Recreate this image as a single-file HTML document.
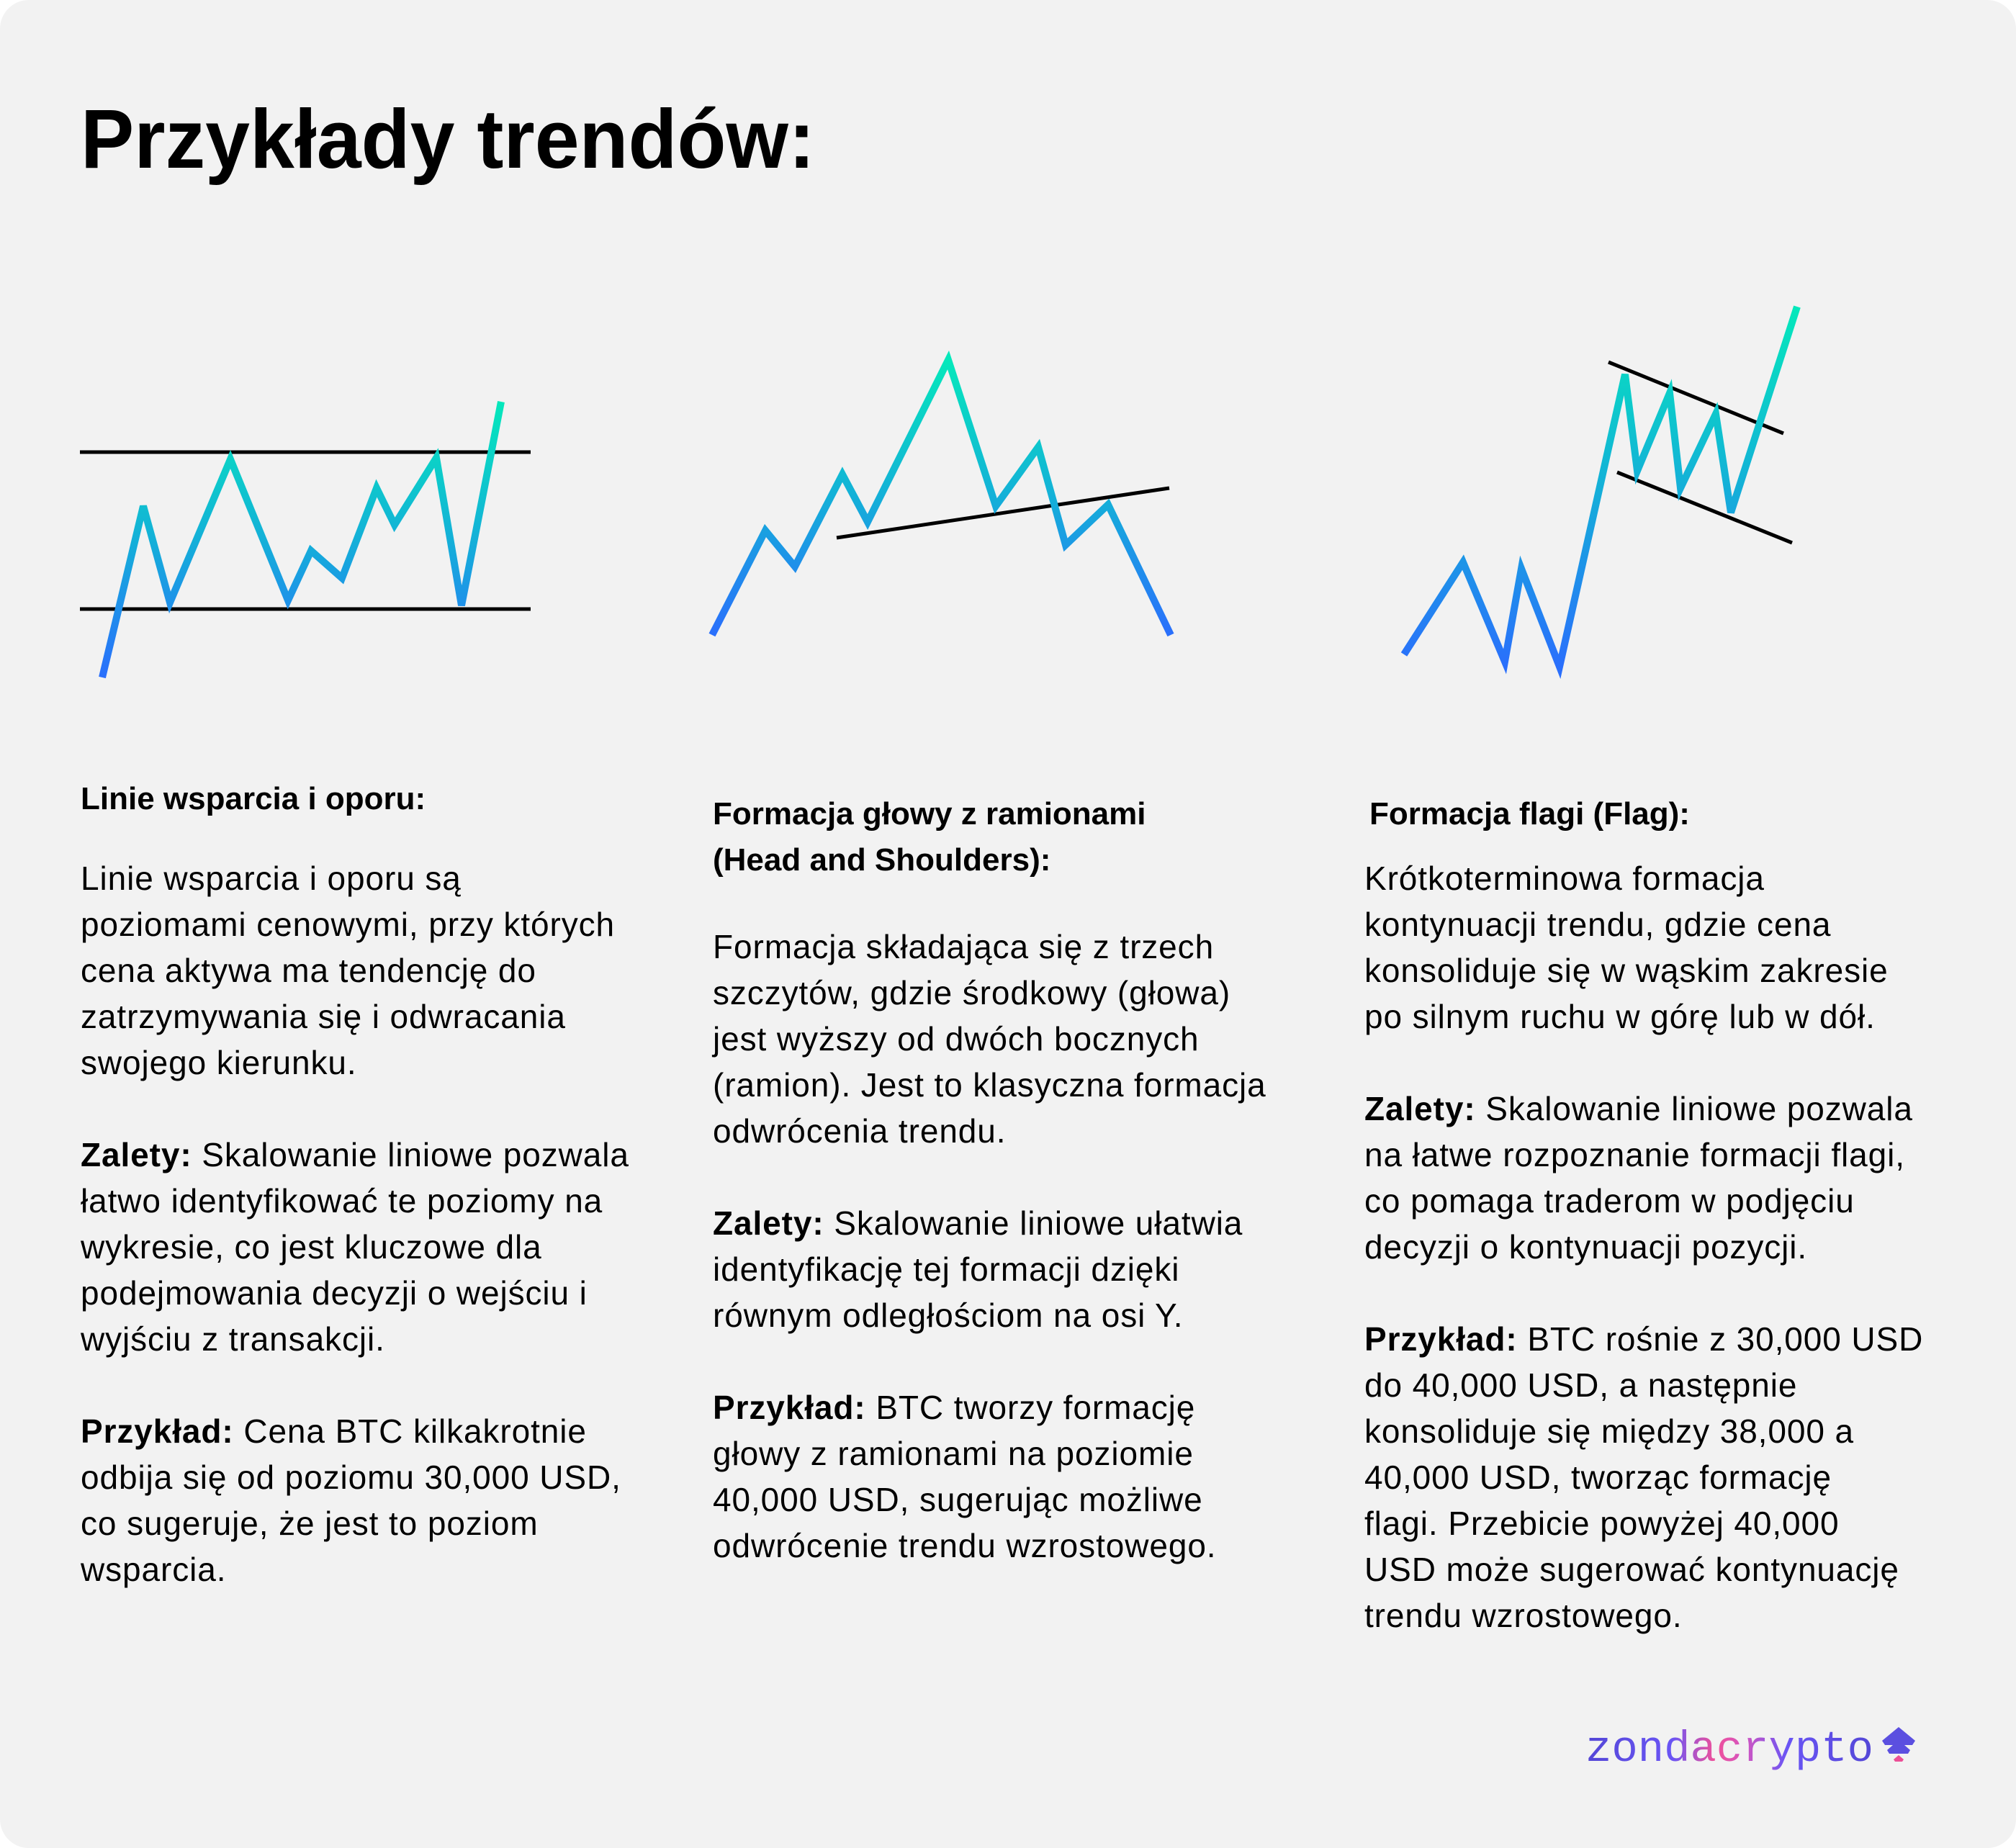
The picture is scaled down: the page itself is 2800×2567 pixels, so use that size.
<!DOCTYPE html>
<html><head><meta charset="utf-8"><style>
html,body{margin:0;padding:0;background:#fff;}
svg{display:block;}
text{font-family:"Liberation Sans",sans-serif;fill:#000;}
.b{font-size:46px;letter-spacing:0.9px;}
.h{font-size:44px;font-weight:bold;}
</style></head><body>
<svg width="2800" height="2567" viewBox="0 0 2800 2567" xmlns="http://www.w3.org/2000/svg">
<defs>
<linearGradient id="g" x1="0" y1="1" x2="0" y2="0">
<stop offset="0" stop-color="#2a6ffc"/><stop offset="0.5" stop-color="#14b0d8"/><stop offset="1" stop-color="#05e8bb"/>
</linearGradient>
<linearGradient id="lg" x1="0" y1="0" x2="1" y2="0">
<stop offset="0" stop-color="#5346d6"/><stop offset="0.3" stop-color="#6a55f5"/><stop offset="0.45" stop-color="#f0509a"/><stop offset="0.55" stop-color="#d455c0"/><stop offset="0.7" stop-color="#6a55f5"/><stop offset="1" stop-color="#5346d6"/>
</linearGradient>
</defs>
<rect x="0" y="0" width="2800" height="2567" rx="40" fill="#f2f2f2"/>
<text x="112" y="233" font-size="116" font-weight="bold" textLength="1020" lengthAdjust="spacingAndGlyphs">Przykłady trendów:</text>

<line x1="111" y1="628" x2="737" y2="628" stroke="#000" stroke-width="5"/>
<line x1="111" y1="846" x2="737" y2="846" stroke="#000" stroke-width="5"/>
<polyline fill="none" stroke="url(#g)" stroke-width="10" points="142,941 199,703 236,837 320,638 400,834 432,765 475,803 523,678 548,729 606,636 641,841 696,558"/>

<line x1="1162" y1="747" x2="1624" y2="678" stroke="#000" stroke-width="5"/>
<polyline fill="none" stroke="url(#g)" stroke-width="10" points="989,882 1063,737 1104,787 1170,659 1205,725 1317,500 1383,703 1442,621 1480,757 1539,701 1626,882"/>

<line x1="2234" y1="503" x2="2477" y2="602" stroke="#000" stroke-width="5"/>
<line x1="2246" y1="656" x2="2489" y2="754" stroke="#000" stroke-width="5"/>
<polyline fill="none" stroke="url(#g)" stroke-width="10" points="1950,909 2032,781 2090,919 2113,790 2166,926 2257,520 2274,654 2319,546 2334,678 2383,575 2404,712 2496,426"/>

<text class="h" x="112" y="1124">Linie wsparcia i oporu:</text>
<text class="b" x="112" y="1236">
<tspan x="112">Linie wsparcia i oporu są</tspan>
<tspan x="112" dy="64">poziomami cenowymi, przy których</tspan>
<tspan x="112" dy="64">cena aktywa ma tendencję do</tspan>
<tspan x="112" dy="64">zatrzymywania się i odwracania</tspan>
<tspan x="112" dy="64">swojego kierunku.</tspan>
<tspan x="112" dy="128" font-weight="bold">Zalety:</tspan><tspan> Skalowanie liniowe pozwala</tspan>
<tspan x="112" dy="64">łatwo identyfikować te poziomy na</tspan>
<tspan x="112" dy="64">wykresie, co jest kluczowe dla</tspan>
<tspan x="112" dy="64">podejmowania decyzji o wejściu i</tspan>
<tspan x="112" dy="64">wyjściu z transakcji.</tspan>
<tspan x="112" dy="128" font-weight="bold">Przykład:</tspan><tspan> Cena BTC kilkakrotnie</tspan>
<tspan x="112" dy="64">odbija się od poziomu 30,000 USD,</tspan>
<tspan x="112" dy="64">co sugeruje, że jest to poziom</tspan>
<tspan x="112" dy="64">wsparcia.</tspan>
</text>

<text class="h" x="990" y="1145"><tspan x="990">Formacja głowy z ramionami</tspan><tspan x="990" dy="64">(Head and Shoulders):</tspan></text>
<text class="b" x="990" y="1331">
<tspan x="990">Formacja składająca się z trzech</tspan>
<tspan x="990" dy="64">szczytów, gdzie środkowy (głowa)</tspan>
<tspan x="990" dy="64">jest wyższy od dwóch bocznych</tspan>
<tspan x="990" dy="64">(ramion). Jest to klasyczna formacja</tspan>
<tspan x="990" dy="64">odwrócenia trendu.</tspan>
<tspan x="990" dy="128" font-weight="bold">Zalety:</tspan><tspan> Skalowanie liniowe ułatwia</tspan>
<tspan x="990" dy="64">identyfikację tej formacji dzięki</tspan>
<tspan x="990" dy="64">równym odległościom na osi Y.</tspan>
<tspan x="990" dy="128" font-weight="bold">Przykład:</tspan><tspan> BTC tworzy formację</tspan>
<tspan x="990" dy="64">głowy z ramionami na poziomie</tspan>
<tspan x="990" dy="64">40,000 USD, sugerując możliwe</tspan>
<tspan x="990" dy="64">odwrócenie trendu wzrostowego.</tspan>
</text>

<text class="h" x="1902" y="1145">Formacja flagi (Flag):</text>
<text class="b" x="1895" y="1236">
<tspan x="1895">Krótkoterminowa formacja</tspan>
<tspan x="1895" dy="64">kontynuacji trendu, gdzie cena</tspan>
<tspan x="1895" dy="64">konsoliduje się w wąskim zakresie</tspan>
<tspan x="1895" dy="64">po silnym ruchu w górę lub w dół.</tspan>
<tspan x="1895" dy="128" font-weight="bold">Zalety:</tspan><tspan> Skalowanie liniowe pozwala</tspan>
<tspan x="1895" dy="64">na łatwe rozpoznanie formacji flagi,</tspan>
<tspan x="1895" dy="64">co pomaga traderom w podjęciu</tspan>
<tspan x="1895" dy="64">decyzji o kontynuacji pozycji.</tspan>
<tspan x="1895" dy="128" font-weight="bold">Przykład:</tspan><tspan> BTC rośnie z 30,000 USD</tspan>
<tspan x="1895" dy="64">do 40,000 USD, a następnie</tspan>
<tspan x="1895" dy="64">konsoliduje się między 38,000 a</tspan>
<tspan x="1895" dy="64">40,000 USD, tworząc formację</tspan>
<tspan x="1895" dy="64">flagi. Przebicie powyżej 40,000</tspan>
<tspan x="1895" dy="64">USD może sugerować kontynuację</tspan>
<tspan x="1895" dy="64">trendu wzrostowego.</tspan>
</text>

<text x="2202" y="2446" font-size="60" style="font-family:'Liberation Mono',monospace;fill:url(#lg)" textLength="400" lengthAdjust="spacingAndGlyphs">zondacrypto</text>
<polygon points="2637,2399 2660,2418 2656,2424 2645,2424 2653,2431 2650,2436 2624,2436 2621,2431 2629,2424 2618,2424 2614,2418" fill="#5b4fe0"/>
<polygon points="2637,2438 2644,2444 2642,2447 2632,2447 2630,2444" fill="#ec4f96"/>
</svg>
</body></html>
